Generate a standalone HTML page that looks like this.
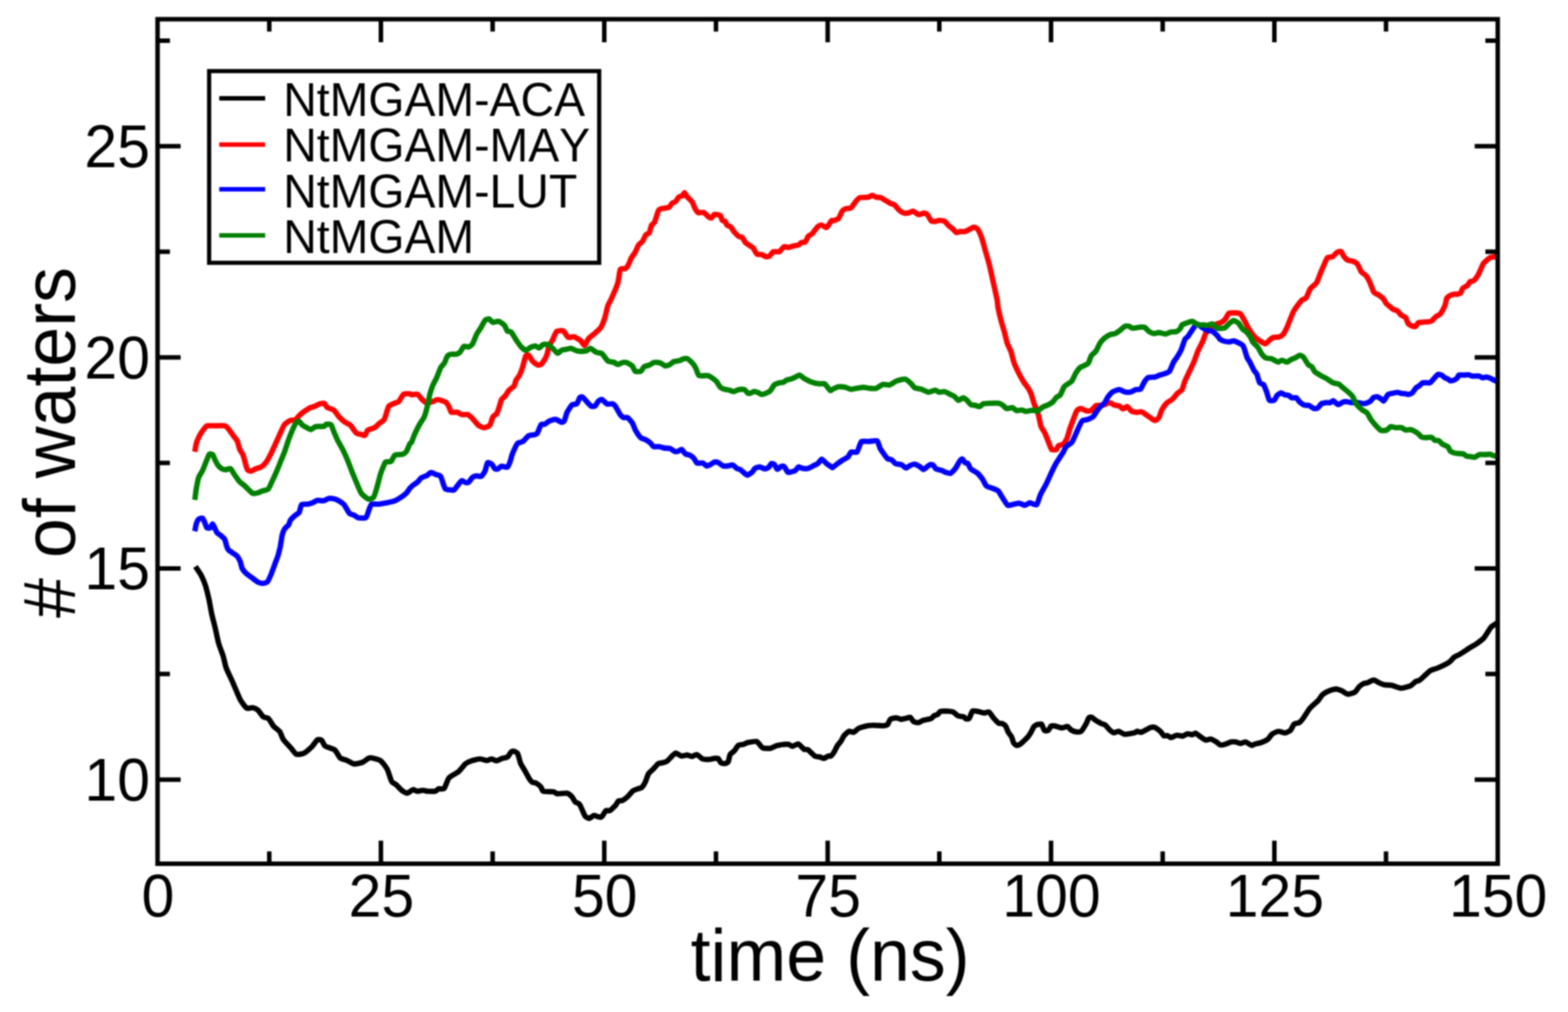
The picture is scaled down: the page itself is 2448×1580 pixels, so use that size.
<!DOCTYPE html>
<html><head><meta charset="utf-8"><title>Number of waters vs time</title>
<style>html,body{margin:0;padding:0;background:#fff}svg{display:block;filter:blur(0.8px)}text{font-family:"Liberation Sans",sans-serif;fill:#000;font-kerning:none}</style></head>
<body>
<svg width="2448" height="1580" viewBox="0 0 2448 1580">
<rect width="2448" height="1580" fill="#fff"/>
<path d="M305.1,884.5C306.0,885.9 312.5,895.2 314.1,898.2C315.7,901.2 319.7,910.7 320.9,914.5C322.1,918.4 325.4,932.0 326.4,936.4C327.3,940.7 329.5,953.8 330.5,958.2C331.4,962.5 334.8,975.4 335.9,980.0C337.0,984.6 340.1,1000.2 341.4,1004.5C342.6,1008.9 347.0,1019.8 348.2,1023.6C349.4,1027.5 351.7,1038.9 353.1,1042.7C354.5,1046.5 360.1,1058.0 361.8,1061.8C363.5,1065.6 368.6,1077.8 370.0,1080.9C371.4,1084.0 374.0,1090.7 375.5,1093.2C377.0,1095.6 383.1,1104.3 385.0,1105.5C386.9,1106.6 392.8,1104.6 394.5,1104.9C396.3,1105.2 401.1,1107.3 402.7,1108.7C404.4,1110.1 409.3,1117.8 410.9,1119.1C412.5,1120.4 417.5,1120.3 419.1,1121.8C420.7,1123.3 425.5,1132.0 427.3,1134.1C429.0,1136.1 435.3,1140.2 436.8,1142.3C438.3,1144.3 440.5,1152.0 442.3,1154.5C444.0,1157.1 452.5,1165.9 454.5,1168.2C456.6,1170.5 460.7,1177.0 462.7,1177.7C464.8,1178.5 472.5,1177.0 475.0,1175.8C477.5,1174.6 485.2,1167.5 487.3,1165.5C489.3,1163.4 494.0,1156.0 495.5,1155.1C497.0,1154.1 501.0,1154.9 502.3,1155.9C503.5,1156.9 505.7,1163.4 507.7,1164.9C509.8,1166.4 520.4,1169.1 522.7,1170.9C525.0,1172.7 529.0,1181.5 530.9,1183.2C532.8,1184.8 539.6,1186.3 541.8,1187.3C544.0,1188.2 550.3,1192.5 552.7,1192.7C555.2,1193.0 563.9,1191.0 566.4,1190.0C568.8,1189.0 574.5,1183.5 577.3,1183.2C580.0,1182.9 590.9,1185.5 593.6,1187.3C596.4,1189.0 602.8,1197.6 604.5,1200.9C606.3,1204.2 610.0,1217.6 611.4,1220.0C612.7,1222.4 616.5,1223.5 618.1,1224.8C619.7,1226.2 625.4,1232.5 627.2,1233.9C628.9,1235.3 634.1,1238.3 635.5,1238.4C636.8,1238.6 639.8,1236.0 640.7,1235.4C641.7,1234.8 644.2,1232.7 645.3,1232.7C646.3,1232.7 649.8,1235.3 651.3,1235.4C652.8,1235.5 658.7,1233.9 660.4,1233.9C662.0,1233.9 665.9,1235.3 667.9,1235.4C669.9,1235.5 678.3,1235.5 680.0,1235.1C681.6,1234.7 683.1,1232.1 684.5,1231.6C685.9,1231.2 691.9,1232.6 693.5,1230.9C695.2,1229.1 698.8,1216.9 701.1,1214.3C703.4,1211.6 713.6,1206.7 716.2,1204.5C718.7,1202.3 724.8,1194.1 726.7,1192.4C728.7,1190.7 733.5,1188.6 735.8,1187.9C738.1,1187.1 747.0,1184.9 749.4,1184.9C751.8,1184.8 758.1,1187.4 759.9,1187.4C761.7,1187.4 766.0,1184.8 767.5,1184.9C769.0,1184.9 773.4,1188.0 775.0,1187.9C776.7,1187.8 782.3,1184.7 784.1,1184.1C785.8,1183.5 791.0,1182.8 792.4,1181.8C793.7,1180.9 796.7,1175.2 797.7,1174.3C798.6,1173.4 801.1,1172.6 802.2,1172.8C803.2,1173.0 807.2,1174.7 808.2,1176.6C809.3,1178.4 811.7,1189.1 812.7,1191.7C813.8,1194.2 817.4,1199.8 818.8,1202.2C820.1,1204.6 825.1,1213.9 826.3,1215.8C827.5,1217.7 829.8,1220.4 830.8,1221.1C831.9,1221.8 835.5,1221.8 836.9,1222.6C838.2,1223.3 843.3,1227.3 844.4,1228.6C845.6,1229.9 846.2,1234.7 848.2,1235.4C850.2,1236.2 861.9,1235.8 864.0,1236.2C866.2,1236.5 868.0,1239.0 870.1,1239.2C872.2,1239.4 882.9,1238.0 885.2,1238.4C887.4,1238.9 891.4,1242.3 892.7,1243.7C894.0,1245.1 896.8,1250.8 898.0,1252.0C899.2,1253.2 903.5,1254.1 904.8,1255.8C906.1,1257.4 909.9,1266.7 910.8,1268.6C911.7,1270.5 912.9,1273.7 913.8,1274.6C914.7,1275.5 918.5,1277.8 919.9,1277.7C921.2,1277.5 926.2,1273.4 927.4,1273.1C928.6,1272.8 930.9,1274.3 931.9,1274.6C933.0,1274.9 937.2,1276.1 938.0,1276.1C938.8,1276.1 939.2,1275.7 940.0,1274.6C940.8,1273.6 944.8,1266.5 946.0,1265.6C947.2,1264.7 950.6,1266.4 952.1,1265.6C953.6,1264.8 959.8,1258.8 961.1,1257.3C962.5,1255.8 964.6,1251.2 965.6,1250.5C966.7,1249.7 970.2,1250.5 971.7,1249.7C973.2,1249.0 979.1,1244.5 980.7,1243.0C982.4,1241.4 986.8,1235.8 988.3,1234.7C989.8,1233.5 994.5,1232.2 995.8,1231.6C997.2,1231.1 1000.7,1230.4 1001.9,1229.4C1003.0,1228.4 1006.1,1223.9 1007.1,1221.8C1008.2,1219.7 1011.1,1210.4 1012.4,1208.2C1013.7,1206.1 1018.5,1202.3 1020.0,1200.7C1021.5,1199.1 1026.1,1193.4 1027.5,1192.4C1028.9,1191.4 1032.9,1191.3 1034.3,1190.9C1035.7,1190.5 1039.8,1189.5 1041.1,1188.6C1042.4,1187.8 1045.8,1183.9 1047.1,1182.6C1048.5,1181.3 1053.0,1176.0 1054.7,1175.8C1056.3,1175.6 1061.9,1180.0 1063.7,1180.3C1065.5,1180.6 1071.1,1178.8 1072.8,1178.8C1074.4,1178.9 1078.8,1181.2 1080.3,1181.1C1081.8,1181.0 1086.2,1177.7 1087.9,1178.1C1089.5,1178.4 1095.0,1184.1 1096.9,1184.9C1098.9,1185.6 1105.7,1185.7 1107.5,1185.6C1109.3,1185.5 1113.7,1184.3 1115.0,1184.1C1116.4,1184.0 1120.0,1183.4 1121.1,1184.1C1122.1,1184.8 1124.5,1190.1 1125.6,1190.9C1126.6,1191.7 1130.5,1192.1 1131.6,1192.0C1132.7,1191.8 1136.1,1190.8 1136.9,1189.4C1137.7,1188.0 1138.9,1179.8 1139.9,1178.1C1140.9,1176.3 1145.4,1173.5 1146.7,1172.0C1148.0,1170.6 1151.4,1164.7 1152.7,1163.7C1154.1,1162.8 1158.8,1162.7 1160.3,1162.2C1161.8,1161.8 1165.7,1159.7 1167.8,1159.2C1169.9,1158.8 1179.1,1156.9 1181.4,1157.7C1183.7,1158.5 1188.3,1166.5 1190.5,1167.5C1192.6,1168.6 1200.4,1168.6 1202.5,1168.3C1204.6,1168.0 1209.5,1165.1 1211.6,1164.5C1213.7,1163.9 1221.7,1162.5 1223.7,1162.2C1225.6,1162.0 1229.8,1161.9 1231.2,1162.2C1232.6,1162.5 1235.7,1165.3 1237.2,1165.2C1238.7,1165.2 1244.5,1161.0 1246.3,1161.5C1248.1,1161.9 1253.8,1168.9 1255.3,1169.8C1256.8,1170.7 1259.7,1169.5 1261.4,1170.5C1263.0,1171.6 1270.1,1179.2 1271.9,1180.3C1273.7,1181.5 1278.7,1181.7 1279.5,1181.8C1280.3,1182.0 1279.3,1181.6 1280.0,1181.8C1280.7,1182.0 1284.7,1184.2 1286.0,1184.1C1287.4,1183.9 1292.4,1180.7 1293.6,1180.3C1294.7,1179.9 1296.4,1181.0 1297.4,1180.3C1298.3,1179.6 1301.7,1175.1 1302.6,1173.5C1303.6,1171.9 1306.1,1166.1 1307.2,1164.5C1308.2,1162.8 1312.1,1158.5 1313.2,1156.9C1314.2,1155.3 1316.5,1150.1 1317.7,1148.6C1318.9,1147.1 1323.8,1142.4 1325.3,1141.8C1326.8,1141.3 1331.3,1143.8 1332.8,1143.3C1334.3,1142.9 1338.1,1138.4 1340.4,1137.3C1342.6,1136.2 1352.7,1133.3 1355.4,1132.8C1358.2,1132.3 1365.2,1132.4 1367.5,1132.5C1369.8,1132.5 1376.3,1133.2 1378.1,1133.1C1379.9,1133.0 1384.4,1132.3 1385.6,1131.3C1386.8,1130.3 1388.8,1124.0 1390.1,1123.0C1391.5,1121.9 1397.5,1120.7 1399.2,1120.7C1400.9,1120.7 1405.2,1122.9 1406.7,1123.0C1408.2,1123.0 1412.8,1121.8 1414.3,1121.5C1415.7,1121.2 1419.9,1119.4 1421.1,1119.9C1422.3,1120.5 1425.1,1125.9 1426.4,1126.7C1427.6,1127.6 1432.4,1128.5 1433.9,1128.2C1435.4,1128.0 1439.5,1125.1 1441.4,1124.5C1443.4,1123.8 1451.9,1122.6 1453.5,1121.9C1455.2,1121.2 1457.0,1118.3 1458.0,1117.7C1459.1,1117.0 1463.1,1116.1 1464.1,1115.4C1465.1,1114.7 1466.6,1111.4 1467.8,1110.9C1469.1,1110.4 1474.1,1110.1 1476.1,1110.1C1478.2,1110.2 1486.3,1110.9 1488.2,1111.7C1490.2,1112.4 1494.1,1116.9 1495.8,1117.7C1497.4,1118.4 1503.6,1118.7 1504.8,1119.2C1506.0,1119.6 1507.0,1122.0 1507.8,1122.2C1508.7,1122.4 1512.1,1122.7 1513.1,1121.5C1514.2,1120.3 1517.0,1111.2 1518.4,1110.1C1519.8,1109.1 1525.6,1110.6 1527.4,1110.9C1529.3,1111.2 1534.8,1113.1 1536.5,1113.2C1538.2,1113.2 1542.5,1110.8 1544.0,1111.7C1545.5,1112.5 1550.1,1119.7 1551.6,1121.5C1553.1,1123.2 1557.8,1128.2 1559.1,1129.0C1560.5,1129.8 1564.0,1129.2 1565.2,1129.8C1566.3,1130.3 1569.5,1132.9 1570.4,1134.3C1571.3,1135.6 1573.3,1141.7 1574.2,1143.3C1575.1,1145.0 1578.7,1149.2 1579.5,1150.9C1580.3,1152.5 1581.8,1158.7 1582.5,1159.9C1583.3,1161.2 1586.1,1163.5 1587.0,1163.7C1588.0,1163.9 1590.6,1163.5 1592.3,1162.2C1594.1,1160.9 1602.6,1152.9 1604.4,1150.9C1606.2,1148.8 1609.4,1143.5 1610.4,1141.8C1611.4,1140.2 1613.3,1135.4 1614.2,1134.3C1615.1,1133.2 1618.9,1131.3 1619.5,1131.0C1620.1,1130.7 1619.3,1131.3 1620.0,1131.3C1620.7,1131.2 1625.0,1129.6 1626.0,1130.5C1627.1,1131.4 1629.5,1139.3 1630.6,1140.3C1631.6,1141.3 1635.5,1141.0 1636.6,1140.3C1637.7,1139.6 1640.1,1134.2 1641.1,1133.5C1642.2,1132.8 1645.5,1133.2 1647.2,1133.5C1648.8,1133.8 1655.8,1136.5 1657.7,1136.5C1659.7,1136.6 1665.3,1134.0 1666.8,1134.3C1668.2,1134.6 1670.7,1138.7 1672.1,1139.6C1673.4,1140.4 1678.8,1142.4 1680.4,1142.6C1681.9,1142.8 1686.4,1143.0 1687.9,1141.8C1689.4,1140.6 1694.2,1132.6 1695.4,1130.5C1696.6,1128.4 1699.1,1121.8 1700.0,1120.7C1700.9,1119.6 1703.4,1119.6 1704.5,1119.9C1705.5,1120.3 1709.0,1123.5 1710.5,1124.5C1712.0,1125.5 1718.1,1129.0 1719.6,1129.8C1721.1,1130.5 1724.3,1131.0 1725.6,1132.0C1726.9,1133.0 1731.0,1138.4 1732.4,1139.6C1733.8,1140.8 1737.8,1143.9 1739.2,1144.1C1740.6,1144.3 1745.1,1141.6 1746.7,1141.8C1748.4,1142.1 1753.4,1146.1 1755.8,1146.4C1758.2,1146.6 1768.9,1144.5 1770.9,1144.1C1772.8,1143.6 1774.4,1141.9 1775.4,1141.8C1776.5,1141.8 1780.1,1143.6 1781.4,1143.3C1782.8,1143.1 1787.5,1140.3 1789.0,1139.6C1790.5,1138.8 1795.1,1136.2 1796.5,1135.8C1798.0,1135.4 1801.8,1135.2 1803.3,1135.8C1804.8,1136.4 1810.3,1140.5 1811.6,1141.8C1813.0,1143.1 1815.8,1147.9 1816.9,1148.6C1818.0,1149.3 1821.8,1148.3 1822.9,1148.6C1824.1,1148.9 1826.8,1151.7 1828.2,1151.6C1829.6,1151.6 1835.5,1148.1 1837.3,1147.9C1839.1,1147.6 1844.7,1149.6 1846.3,1149.4C1848.0,1149.1 1852.4,1145.8 1853.9,1145.6C1855.4,1145.4 1860.1,1147.2 1861.4,1147.1C1862.7,1147.0 1865.3,1144.5 1866.7,1144.8C1868.0,1145.2 1873.4,1149.8 1875.0,1150.9C1876.6,1151.9 1881.0,1155.1 1882.5,1155.4C1884.0,1155.7 1888.4,1153.6 1890.1,1153.9C1891.7,1154.2 1897.6,1157.5 1899.1,1158.4C1900.6,1159.3 1903.7,1162.6 1905.2,1163.0C1906.7,1163.3 1912.6,1161.9 1914.2,1161.4C1915.9,1161.0 1920.3,1158.7 1921.8,1158.4C1923.3,1158.1 1927.8,1158.2 1929.3,1158.4C1930.8,1158.7 1935.3,1160.7 1936.8,1160.7C1938.4,1160.7 1942.7,1158.1 1944.4,1158.4C1946.1,1158.7 1952.7,1163.4 1954.2,1163.7C1955.7,1164.0 1958.9,1161.7 1959.5,1161.4C1960.1,1161.2 1959.0,1161.7 1960.0,1161.5C1961.0,1161.2 1967.8,1159.8 1969.8,1159.0C1971.8,1158.3 1978.0,1155.4 1979.6,1154.1C1981.2,1152.8 1984.5,1147.2 1986.2,1146.0C1987.8,1144.7 1994.0,1142.0 1996.0,1141.9C1997.9,1141.7 2003.9,1144.5 2005.8,1144.3C2007.6,1144.2 2013.3,1141.6 2014.8,1140.2C2016.2,1138.8 2019.1,1131.6 2020.5,1130.4C2021.9,1129.2 2027.2,1129.0 2028.7,1128.0C2030.1,1127.0 2033.6,1122.8 2035.2,1120.6C2036.8,1118.4 2042.7,1108.6 2045.0,1105.9C2047.3,1103.2 2056.1,1095.8 2058.1,1093.6C2060.0,1091.5 2063.0,1086.1 2064.6,1084.7C2066.2,1083.2 2072.3,1079.8 2074.4,1078.9C2076.5,1078.0 2083.7,1075.7 2085.9,1075.7C2088.0,1075.7 2093.9,1078.1 2095.7,1078.9C2097.5,1079.8 2101.9,1083.7 2103.8,1083.8C2105.8,1084.0 2113.5,1081.7 2115.3,1080.6C2117.1,1079.4 2120.5,1073.7 2121.8,1072.4C2123.1,1071.1 2127.0,1068.1 2128.4,1067.5C2129.7,1066.8 2133.3,1066.4 2134.9,1065.9C2136.5,1065.3 2142.9,1061.8 2144.7,1061.8C2146.5,1061.8 2151.2,1065.1 2152.9,1065.9C2154.5,1066.6 2159.1,1068.7 2161.0,1069.1C2163.0,1069.5 2169.9,1069.4 2172.5,1069.9C2175.1,1070.5 2184.3,1074.3 2187.2,1074.4C2190.1,1074.4 2199.6,1071.8 2201.9,1070.8C2204.2,1069.7 2208.6,1065.1 2210.1,1064.2C2211.6,1063.3 2215.2,1062.8 2216.6,1061.8C2218.1,1060.8 2223.2,1055.9 2224.8,1054.4C2226.4,1052.9 2231.0,1048.2 2233.0,1047.1C2234.9,1045.9 2241.5,1044.3 2244.4,1043.0C2247.4,1041.7 2259.8,1035.7 2262.4,1034.0C2265.0,1032.3 2268.9,1027.0 2270.6,1025.8C2272.2,1024.6 2276.3,1023.2 2278.7,1021.7C2281.2,1020.3 2292.5,1012.7 2295.1,1011.1C2297.7,1009.5 2302.8,1006.9 2304.9,1005.4C2307.0,1003.9 2314.0,999.0 2316.3,996.4C2318.6,993.8 2325.8,981.5 2327.8,979.2C2329.7,976.9 2334.9,974.2 2335.9,973.5C2337.0,972.8 2338.1,972.0 2338.3,971.9" fill="none" stroke="#000000" stroke-width="8.4" stroke-linejoin="round" stroke-linecap="butt"/>
<path d="M304.1,705.4C304.4,704.1 305.8,694.9 306.4,692.6C307.0,690.3 309.3,684.7 310.2,682.8C311.1,680.9 314.4,675.3 315.5,673.7C316.5,672.2 319.9,667.9 320.7,666.9C321.6,666.0 322.1,664.9 323.8,664.7C325.4,664.5 334.6,664.7 337.3,664.7C340.1,664.7 349.0,664.2 350.9,664.7C352.9,665.2 355.6,668.4 356.9,670.0C358.3,671.6 363.1,678.6 364.5,680.5C365.9,682.4 369.5,686.7 370.5,688.8C371.5,690.9 373.4,699.5 374.3,701.7C375.2,703.8 378.7,708.4 379.6,710.7C380.5,713.0 382.7,722.0 383.4,724.3C384.0,726.5 385.5,732.2 386.4,733.3C387.2,734.5 390.4,735.8 391.7,735.6C392.9,735.4 397.5,732.5 399.2,731.8C400.9,731.1 406.6,729.9 408.2,728.8C409.9,727.8 414.3,723.4 415.8,721.3C417.3,719.2 421.8,710.7 423.3,707.7C424.8,704.7 429.4,694.4 430.9,691.1C432.4,687.8 437.1,677.4 438.4,674.5C439.8,671.6 443.0,664.2 444.5,662.4C446.0,660.6 451.9,657.1 453.5,656.4C455.2,655.7 459.5,656.5 461.1,655.6C462.6,654.7 466.9,648.8 468.6,647.3C470.3,645.8 476.1,641.6 477.7,640.5C479.2,639.5 482.3,637.4 483.7,636.8C485.0,636.2 489.7,635.1 491.2,634.5C492.7,633.9 497.3,631.2 498.8,630.7C500.3,630.3 505.1,629.5 506.3,630.0C507.5,630.5 509.3,635.0 510.8,636.0C512.4,637.1 519.6,639.1 521.4,640.5C523.2,642.0 527.3,648.5 529.0,650.4C530.6,652.2 536.2,657.3 538.0,658.7C539.8,660.0 545.2,662.2 547.1,663.9C548.9,665.7 554.5,674.6 556.1,676.0C557.8,677.4 562.3,677.9 563.7,678.3C565.0,678.6 568.6,680.5 569.7,679.8C570.7,679.1 572.7,672.7 574.2,671.5C575.7,670.3 583.0,668.8 584.8,667.7C586.6,666.6 590.8,662.2 592.3,660.9C593.8,659.6 598.7,656.8 599.9,654.9C601.1,652.9 603.6,643.4 604.4,641.3C605.1,639.2 606.2,635.0 607.4,633.8C608.6,632.5 615.0,629.9 616.5,629.2C618.0,628.5 621.1,628.3 622.5,627.0C623.9,625.6 628.3,616.9 630.0,615.6C631.8,614.4 638.7,614.8 640.0,614.9C641.3,615.0 641.5,616.3 642.6,616.4C643.8,616.4 650.0,614.8 651.7,615.6C653.3,616.4 657.7,622.5 659.2,623.9C660.7,625.3 665.1,628.9 666.8,629.2C668.4,629.5 674.2,627.4 675.8,626.9C677.5,626.4 681.4,623.8 683.4,623.9C685.3,624.0 693.7,626.6 695.4,627.7C697.2,628.7 699.8,632.9 700.7,634.5C701.6,636.0 703.2,642.6 704.5,643.5C705.8,644.4 711.9,643.1 713.5,643.5C715.2,643.9 719.4,646.9 721.1,647.3C722.7,647.7 728.5,646.7 730.1,647.3C731.8,647.9 736.0,651.7 737.7,653.3C739.3,655.0 744.9,662.4 746.7,663.9C748.5,665.3 754.0,667.7 755.8,667.7C757.6,667.7 763.5,665.5 764.8,663.9C766.2,662.2 768.3,652.9 769.4,651.1C770.4,649.2 774.4,647.3 775.4,645.8C776.4,644.3 778.4,638.2 779.2,636.0C779.9,633.8 782.0,625.7 783.0,623.9C783.9,622.1 787.8,619.4 789.0,617.9C790.2,616.4 793.7,610.3 795.0,608.8C796.4,607.3 801.5,604.3 802.6,602.8C803.6,601.3 804.7,595.5 805.6,593.7C806.5,591.9 810.6,586.8 811.6,584.7C812.7,582.6 815.2,575.5 816.1,572.6C817.0,569.7 819.8,557.8 820.7,556.0C821.6,554.2 824.1,553.7 825.2,554.5C826.3,555.2 829.9,562.0 831.2,563.5C832.6,565.1 837.4,569.1 838.8,569.6C840.1,570.1 843.6,569.7 844.8,568.8C846.0,567.9 849.9,562.3 850.8,560.5C851.8,558.8 854.0,553.4 854.6,551.5C855.2,549.5 856.1,543.0 856.9,540.9C857.7,538.8 861.7,532.7 862.9,530.4C864.1,528.0 867.3,518.9 869.0,517.5C870.6,516.2 877.7,515.9 879.5,516.8C881.3,517.7 885.4,525.7 887.1,526.6C888.7,527.5 894.1,525.3 896.1,525.8C898.1,526.4 905.0,530.5 906.7,531.9C908.3,533.2 911.5,539.7 912.7,539.4C913.9,539.1 917.1,530.8 918.7,528.8C920.4,526.9 927.3,521.6 929.3,519.8C931.3,518.0 936.8,513.2 938.4,510.7C939.9,508.3 943.3,499.0 944.4,495.6C945.4,492.3 947.9,480.4 948.9,477.5C949.9,474.7 952.6,470.5 954.2,467.0C955.8,463.4 963.1,446.6 964.5,442.0C965.9,437.4 967.1,423.1 968.3,420.9C969.5,418.6 975.3,420.1 976.6,419.4C977.9,418.6 980.2,415.0 981.1,413.3C982.0,411.7 984.6,404.7 985.6,402.8C986.7,400.8 990.6,395.8 991.7,393.7C992.8,391.7 995.8,384.1 997.0,382.4C998.1,380.7 1001.9,378.7 1003.0,377.1C1004.1,375.5 1007.2,367.9 1008.3,366.6C1009.3,365.2 1012.7,365.1 1013.6,363.5C1014.5,362.0 1016.5,353.1 1017.3,351.5C1018.2,349.8 1020.8,349.2 1021.9,346.9C1022.9,344.7 1026.8,331.0 1027.9,328.8C1029.0,326.7 1030.8,326.4 1032.4,325.8C1034.1,325.3 1042.8,324.4 1044.5,323.6C1046.2,322.7 1048.0,318.4 1049.0,317.5C1050.1,316.6 1054.0,315.5 1055.1,314.5C1056.1,313.5 1058.5,308.6 1059.6,307.7C1060.6,306.8 1064.7,306.1 1065.6,305.5C1066.5,304.8 1067.9,300.7 1068.6,300.9C1069.4,301.2 1072.0,306.3 1073.2,307.7C1074.4,309.2 1079.6,313.6 1080.7,315.3C1081.8,316.9 1083.6,322.7 1084.5,324.3C1085.4,326.0 1088.3,331.1 1089.8,331.9C1091.2,332.6 1097.2,331.2 1098.8,331.9C1100.5,332.5 1105.1,337.8 1106.4,338.7C1107.6,339.5 1110.0,340.5 1110.9,340.2C1111.8,339.8 1114.0,335.3 1115.4,334.9C1116.8,334.5 1123.3,335.5 1124.5,336.4C1125.7,337.3 1126.7,343.0 1127.5,343.9C1128.2,344.8 1131.2,344.7 1132.0,345.4C1132.8,346.2 1134.1,350.6 1135.0,351.5C1135.9,352.4 1140.0,353.5 1141.1,354.5C1142.1,355.5 1144.4,359.8 1145.6,361.3C1146.8,362.7 1151.8,367.8 1153.1,368.8C1154.5,369.8 1158.1,370.1 1159.2,371.1C1160.2,372.1 1162.5,377.4 1163.7,378.6C1164.9,379.9 1170.0,383.1 1171.2,383.9C1172.4,384.7 1174.7,385.6 1175.8,386.9C1176.8,388.2 1180.4,395.7 1181.8,396.7C1183.2,397.8 1188.0,397.1 1189.3,397.5C1190.7,397.9 1194.2,400.3 1195.4,400.5C1196.6,400.7 1200.2,400.5 1201.4,399.8C1202.6,399.0 1205.9,393.6 1207.4,393.0C1209.0,392.3 1214.8,393.7 1216.5,393.0C1218.2,392.2 1222.5,386.1 1224.0,385.4C1225.5,384.7 1230.1,386.3 1231.6,386.2C1233.1,386.0 1237.6,384.3 1239.1,383.9C1240.6,383.5 1245.5,382.9 1246.7,382.4C1247.9,381.9 1250.1,379.1 1251.2,378.6C1252.3,378.2 1256.2,378.9 1257.2,377.9C1258.3,376.9 1260.7,370.1 1261.8,368.8C1262.8,367.5 1266.3,366.6 1267.8,365.1C1269.3,363.5 1275.3,355.1 1276.8,353.7C1278.4,352.4 1281.5,351.3 1282.9,351.5C1284.2,351.6 1288.9,355.9 1290.4,355.2C1291.9,354.6 1297.0,345.7 1298.0,344.7C1298.9,343.6 1298.9,345.2 1300.0,344.9C1301.1,344.5 1307.6,342.5 1309.1,341.1C1310.5,339.7 1313.3,332.1 1314.3,330.5C1315.4,329.0 1318.2,326.6 1319.6,326.0C1321.0,325.4 1327.2,325.5 1328.7,324.5C1330.2,323.5 1333.3,317.8 1334.7,316.2C1336.1,314.6 1340.1,309.5 1342.2,308.7C1344.4,307.8 1353.9,308.3 1355.8,307.9C1357.8,307.5 1360.7,304.9 1361.9,304.9C1363.1,304.9 1366.5,307.5 1367.9,307.9C1369.3,308.3 1374.1,308.2 1375.4,308.7C1376.8,309.1 1380.0,311.5 1381.5,312.4C1383.0,313.3 1389.0,317.0 1390.5,317.7C1392.0,318.5 1395.2,318.9 1396.6,320.0C1397.9,321.0 1402.6,327.0 1404.1,328.3C1405.6,329.6 1410.1,332.4 1411.7,332.8C1413.2,333.2 1417.8,332.4 1419.2,332.1C1420.6,331.8 1424.5,329.5 1426.0,329.8C1427.5,330.1 1432.6,334.8 1434.3,335.1C1435.9,335.4 1441.2,332.8 1442.6,332.8C1443.9,332.8 1446.7,333.9 1447.9,335.1C1449.0,336.3 1452.7,343.8 1453.9,344.9C1455.1,345.9 1458.7,345.7 1459.9,345.6C1461.1,345.6 1464.5,344.1 1466.0,344.1C1467.5,344.1 1473.5,344.8 1475.0,345.6C1476.5,346.5 1479.8,351.3 1481.1,352.4C1482.3,353.6 1485.9,355.9 1487.1,356.9C1488.3,358.0 1491.9,362.5 1493.1,363.0C1494.3,363.4 1497.8,361.6 1499.2,361.5C1500.5,361.3 1505.2,361.9 1506.7,361.5C1508.2,361.1 1512.9,358.4 1514.2,357.7C1515.6,357.0 1519.1,354.7 1520.3,354.7C1521.5,354.7 1525.1,356.1 1526.3,357.7C1527.5,359.3 1531.1,367.1 1532.4,370.5C1533.6,373.9 1537.2,387.4 1538.4,391.7C1539.6,395.9 1543.2,407.9 1544.4,412.8C1545.6,417.6 1549.3,434.5 1550.5,439.9C1551.7,445.4 1555.7,463.1 1556.5,467.1C1557.3,471.1 1557.4,476.4 1558.1,480.0C1558.8,483.6 1562.4,498.9 1563.4,502.6C1564.4,506.4 1567.0,514.4 1567.9,517.7C1568.8,521.0 1571.4,532.7 1572.4,535.8C1573.5,539.0 1577.4,546.4 1578.5,549.4C1579.5,552.4 1581.8,562.7 1583.0,566.0C1584.2,569.3 1589.0,579.6 1590.5,582.6C1592.0,585.6 1596.6,593.8 1598.1,596.2C1599.6,598.6 1604.4,604.8 1605.6,606.7C1606.8,608.7 1609.2,613.4 1610.1,615.8C1611.0,618.2 1613.6,627.9 1614.7,630.9C1615.7,633.9 1619.6,642.5 1620.7,646.0C1621.8,649.4 1624.2,662.6 1625.2,665.6C1626.3,668.6 1630.1,673.6 1631.3,676.1C1632.5,678.7 1636.2,688.7 1637.3,691.2C1638.4,693.8 1640.6,700.7 1641.8,701.8C1643.0,702.8 1648.3,702.4 1649.4,701.8C1650.4,701.2 1651.3,696.6 1652.4,695.8C1653.4,694.9 1658.6,694.7 1659.9,693.5C1661.3,692.3 1664.9,686.2 1666.0,683.7C1667.0,681.2 1669.6,671.3 1670.5,668.6C1671.4,665.9 1674.0,659.2 1675.0,656.5C1676.1,653.8 1679.8,643.3 1681.1,641.4C1682.3,639.6 1685.6,637.7 1687.1,637.7C1688.6,637.7 1694.5,641.1 1696.1,641.4C1697.8,641.7 1702.2,641.5 1703.7,640.7C1705.2,639.9 1709.7,633.9 1711.2,633.1C1712.7,632.4 1717.4,633.3 1718.8,633.1C1720.1,633.0 1723.5,632.1 1724.8,631.6C1726.2,631.2 1730.8,628.5 1732.4,628.6C1733.9,628.7 1738.4,631.9 1739.9,632.4C1741.4,632.9 1746.1,633.3 1747.4,633.9C1748.8,634.5 1752.3,638.3 1753.5,638.4C1754.7,638.5 1758.2,634.3 1759.5,634.7C1760.9,635.0 1765.5,641.3 1767.1,642.2C1768.6,643.1 1773.1,643.6 1774.6,643.7C1776.1,643.8 1780.8,642.6 1782.1,643.0C1783.5,643.3 1786.8,645.8 1788.2,646.7C1789.5,647.6 1794.2,651.0 1795.7,652.0C1797.2,653.0 1801.9,656.5 1803.3,656.5C1804.6,656.5 1808.2,653.7 1809.3,652.0C1810.4,650.3 1812.6,642.2 1813.8,639.9C1815.0,637.7 1819.7,631.0 1821.4,629.4C1823.0,627.7 1828.8,624.8 1830.4,623.3C1832.1,621.8 1836.5,615.8 1838.0,614.3C1839.5,612.8 1844.3,610.2 1845.5,608.2C1846.7,606.3 1848.6,598.1 1850.0,594.7C1851.5,591.2 1858.6,576.5 1860.0,573.5C1861.4,570.5 1863.1,567.2 1864.1,564.6C1865.2,562.1 1868.8,551.2 1870.2,548.0C1871.5,544.9 1876.5,535.7 1877.7,533.0C1878.9,530.2 1881.3,522.8 1882.2,520.9C1883.2,518.9 1885.4,514.7 1886.8,513.3C1888.1,512.0 1894.3,508.1 1895.8,507.3C1897.3,506.5 1900.7,505.5 1901.9,505.0C1903.1,504.6 1906.7,503.6 1907.9,502.8C1909.1,501.9 1912.9,498.1 1913.9,496.7C1915.0,495.4 1917.1,490.0 1918.5,489.2C1919.8,488.4 1925.7,488.4 1927.5,488.4C1929.3,488.5 1934.9,488.5 1936.6,489.9C1938.2,491.4 1942.9,500.6 1944.1,502.8C1945.3,505.0 1947.6,510.0 1948.6,511.8C1949.7,513.6 1953.5,519.3 1954.7,520.9C1955.9,522.5 1959.3,526.5 1960.7,527.7C1962.1,528.9 1966.7,532.0 1968.2,533.0C1969.8,533.9 1974.3,537.0 1975.8,536.7C1977.3,536.4 1982.1,530.9 1983.3,529.9C1984.5,529.0 1986.5,527.3 1987.9,526.9C1989.2,526.5 1995.4,526.6 1996.9,526.2C1998.4,525.7 2001.7,523.8 2003.0,522.4C2004.2,521.0 2007.8,514.4 2009.0,511.8C2010.2,509.3 2014.0,499.3 2015.0,496.7C2016.1,494.2 2018.5,488.1 2019.5,486.2C2020.6,484.2 2024.2,478.9 2025.6,477.1C2026.9,475.3 2031.8,469.3 2033.1,468.1C2034.5,466.9 2038.0,466.7 2039.2,465.1C2040.4,463.4 2044.1,453.3 2045.2,451.5C2046.3,449.7 2048.7,448.0 2049.7,446.9C2050.8,445.9 2054.6,443.0 2055.8,440.9C2057.0,438.8 2060.7,428.4 2061.8,425.8C2062.8,423.3 2065.3,417.6 2066.3,415.3C2067.4,412.9 2071.0,403.9 2072.4,402.4C2073.7,401.0 2078.4,401.8 2079.9,400.9C2081.4,400.1 2086.1,395.0 2087.4,394.1C2088.8,393.3 2092.4,392.0 2093.5,392.6C2094.5,393.2 2096.9,398.8 2098.0,400.2C2099.1,401.5 2102.7,405.5 2104.0,406.2C2105.4,407.0 2110.1,407.1 2111.6,407.7C2113.1,408.3 2117.8,410.6 2119.1,412.2C2120.5,413.9 2123.8,422.5 2125.2,424.3C2126.5,426.1 2131.3,428.7 2132.7,430.4C2134.1,432.0 2137.5,438.3 2138.7,440.9C2139.9,443.5 2143.4,454.0 2144.8,456.0C2146.1,458.0 2150.8,459.5 2152.3,460.5C2153.8,461.6 2158.7,465.2 2159.9,466.6C2161.0,467.9 2163.1,472.6 2164.2,473.9C2165.2,475.1 2169.2,478.2 2170.4,479.1C2171.5,480.0 2174.4,482.6 2175.6,483.2C2176.7,483.9 2180.7,484.5 2181.8,485.3C2183.0,486.2 2185.8,490.5 2187.0,491.6C2188.3,492.6 2193.1,494.4 2194.3,495.7C2195.4,497.1 2197.5,503.8 2198.4,505.1C2199.4,506.4 2202.5,508.2 2203.6,508.7C2204.8,509.2 2208.8,510.2 2209.9,509.7C2210.9,509.3 2212.9,504.7 2214.0,504.0C2215.2,503.4 2219.8,503.1 2221.3,503.0C2222.8,502.8 2227.2,502.6 2228.6,502.5C2229.9,502.3 2233.5,502.3 2234.8,501.4C2236.2,500.6 2240.7,495.2 2242.1,494.2C2243.4,493.1 2247.2,491.7 2248.3,490.5C2249.5,489.3 2252.7,483.8 2253.5,482.2C2254.3,480.6 2256.1,476.6 2256.6,474.9C2257.1,473.3 2258.0,466.9 2258.7,465.6C2259.4,464.2 2262.8,462.1 2263.9,461.4C2265.0,460.8 2269.0,459.6 2270.1,459.4C2271.3,459.1 2274.3,459.6 2275.3,459.4C2276.4,459.1 2279.7,458.2 2280.5,457.3C2281.4,456.3 2282.6,451.1 2283.6,450.0C2284.7,448.9 2289.8,446.9 2290.9,445.8C2292.1,444.8 2294.1,440.3 2295.1,439.6C2296.0,438.9 2299.1,439.4 2300.3,438.6C2301.4,437.7 2305.5,432.9 2306.5,431.3C2307.5,429.7 2309.7,425.0 2310.6,423.0C2311.6,421.0 2314.8,413.2 2315.8,411.6C2316.9,409.9 2320.0,407.3 2321.0,406.4C2322.1,405.4 2325.1,402.7 2326.2,402.2C2327.4,401.7 2331.4,401.4 2332.5,401.2C2333.5,401.0 2336.0,400.3 2336.6,400.1C2337.2,400.0 2338.1,399.8 2338.3,399.7" fill="none" stroke="#ff0000" stroke-width="8.4" stroke-linejoin="round" stroke-linecap="butt"/>
<path d="M304.1,829.4C304.4,828.3 305.8,820.0 306.4,818.1C307.0,816.2 309.2,811.4 310.2,810.5C311.2,809.6 315.2,808.4 316.2,809.0C317.2,809.6 319.3,815.1 320.0,816.6C320.7,818.1 322.2,823.4 323.0,824.1C323.8,824.9 327.4,824.7 328.3,824.1C329.2,823.5 331.3,817.9 332.1,818.1C332.8,818.2 335.1,824.3 335.8,825.6C336.5,827.0 337.9,830.6 338.8,831.7C339.7,832.7 343.7,835.1 344.9,836.2C346.1,837.2 350.0,840.6 350.9,842.2C351.8,843.9 353.3,851.1 353.9,852.8C354.5,854.4 355.9,857.7 356.9,858.8C358.0,859.9 363.1,863.1 364.5,864.1C365.9,865.1 369.5,867.3 370.5,868.6C371.6,869.9 374.3,875.0 375.1,876.9C375.8,878.8 377.2,885.7 378.1,887.5C379.0,889.3 382.6,893.6 384.1,895.0C385.6,896.5 391.3,900.5 393.2,901.8C395.0,903.2 400.6,907.7 402.2,908.6C403.9,909.5 408.2,910.9 409.8,910.9C411.3,910.9 415.9,910.0 417.3,908.6C418.7,907.2 422.1,899.4 423.3,896.5C424.5,893.7 428.3,882.8 429.4,879.9C430.4,877.1 433.1,870.6 433.9,867.9C434.7,865.1 437.0,856.1 437.7,852.8C438.3,849.5 440.0,837.4 440.7,834.7C441.4,832.0 443.5,827.1 444.5,825.6C445.4,824.1 449.6,820.9 450.5,819.6C451.4,818.2 452.5,813.5 453.5,812.0C454.6,810.5 459.7,805.7 461.1,804.5C462.4,803.3 466.1,801.6 467.1,800.0C468.1,798.3 469.5,789.2 470.9,787.9C472.2,786.6 478.9,787.4 480.7,787.1C482.4,786.8 486.7,785.5 488.2,784.9C489.7,784.3 494.1,781.4 495.8,781.1C497.4,780.8 503.0,782.2 504.8,781.9C506.6,781.6 511.9,778.3 513.9,778.1C515.8,777.9 522.2,778.7 524.4,779.6C526.7,780.5 534.4,785.0 536.5,787.1C538.6,789.3 543.9,799.7 545.5,801.5C547.2,803.2 551.7,803.8 553.1,804.5C554.5,805.2 557.3,807.9 559.1,808.3C560.9,808.6 569.5,809.4 571.2,808.3C572.9,807.1 574.8,799.1 575.7,796.9C576.6,794.8 578.7,788.1 580.3,787.1C581.8,786.2 588.4,787.4 590.8,787.1C593.2,786.9 601.8,785.4 604.4,784.9C607.0,784.4 614.2,782.8 616.5,781.9C618.7,781.0 625.2,777.0 627.0,775.8C628.8,774.6 633.3,771.1 634.6,769.8C635.9,768.4 639.0,763.4 640.0,762.2C641.0,761.1 643.0,759.0 644.1,758.0C645.3,757.1 650.3,754.0 651.7,752.8C653.0,751.6 656.2,747.0 657.7,746.0C659.2,744.9 665.3,743.0 666.8,742.2C668.3,741.4 671.5,737.8 672.8,737.7C674.2,737.5 678.8,740.1 680.4,740.7C681.9,741.3 686.7,742.1 687.9,743.7C689.1,745.3 691.7,754.6 692.4,756.5C693.2,758.5 694.4,762.5 695.4,763.3C696.5,764.1 701.6,764.7 703.0,764.8C704.3,765.0 707.7,765.8 709.0,764.8C710.4,763.8 715.4,756.5 716.6,755.0C717.8,753.6 720.0,750.6 721.1,750.5C722.1,750.3 726.1,753.3 727.1,753.5C728.2,753.7 730.6,753.6 731.7,752.8C732.7,751.9 736.5,746.2 737.7,745.2C738.9,744.2 742.4,743.1 743.7,743.0C745.1,742.8 749.9,744.5 751.3,743.7C752.6,743.0 756.3,737.5 757.3,735.4C758.3,733.3 760.0,723.6 761.1,722.6C762.1,721.5 766.7,723.9 767.9,724.8C769.0,725.8 771.5,730.9 772.4,731.6C773.3,732.4 775.9,732.8 776.9,732.4C778.0,732.0 781.4,728.2 783.0,727.9C784.5,727.6 790.6,730.1 792.0,729.4C793.4,728.6 795.8,722.3 796.5,720.3C797.3,718.4 798.6,712.2 799.5,709.8C800.5,707.3 804.7,698.0 805.6,696.2C806.5,694.4 807.5,692.3 808.6,691.7C809.7,691.0 814.5,690.5 816.1,689.4C817.8,688.3 823.4,681.4 825.2,680.3C827.0,679.3 832.9,679.2 834.2,678.8C835.6,678.4 837.7,678.1 838.8,676.6C839.8,675.0 843.6,664.4 844.8,663.0C846.0,661.6 849.6,662.8 850.8,662.2C852.1,661.7 855.2,658.5 856.9,657.7C858.5,656.9 865.5,654.5 867.4,654.7C869.4,654.8 875.1,659.0 876.5,659.2C877.9,659.4 880.1,658.5 881.0,656.9C881.9,655.4 884.3,645.9 885.5,643.4C886.8,640.9 891.6,633.3 893.1,632.1C894.6,630.8 899.4,631.7 900.6,630.5C901.8,629.4 904.3,621.8 905.2,620.7C906.1,619.7 908.6,619.4 909.7,620.0C910.7,620.6 914.4,625.3 915.7,626.8C917.1,628.2 921.9,633.6 923.3,634.3C924.6,635.0 928.2,634.3 929.3,633.6C930.4,632.8 932.8,627.8 933.8,626.8C934.9,625.8 938.5,623.4 939.9,623.8C941.2,624.1 945.8,629.9 947.4,630.5C949.1,631.2 955.2,630.3 956.5,630.5C957.7,630.8 959.2,632.1 960.0,633.2C960.8,634.2 963.6,639.2 964.5,640.7C965.4,642.2 968.1,647.1 969.1,648.2C970.0,649.4 972.5,651.6 973.6,652.0C974.6,652.4 978.3,651.2 979.6,652.0C981.0,652.8 986.0,658.4 987.2,660.3C988.4,662.2 990.8,669.1 991.7,670.9C992.6,672.7 995.3,677.1 996.2,678.4C997.1,679.7 999.5,682.9 1000.7,683.7C1001.9,684.5 1006.8,685.9 1008.3,686.7C1009.8,687.6 1014.6,690.9 1015.8,692.0C1017.0,693.1 1019.0,696.8 1020.4,697.3C1021.7,697.8 1027.7,697.1 1029.4,697.3C1031.1,697.5 1035.3,699.2 1036.9,699.5C1038.6,699.8 1044.3,699.8 1046.0,700.3C1047.7,700.8 1052.3,704.4 1053.5,704.8C1054.8,705.3 1057.0,705.1 1058.1,704.8C1059.1,704.5 1062.9,701.4 1064.1,701.8C1065.3,702.2 1068.8,707.7 1070.1,708.6C1071.5,709.5 1076.3,710.1 1077.7,710.9C1079.0,711.6 1082.7,714.9 1083.7,716.1C1084.8,717.4 1086.9,722.3 1088.2,722.9C1089.6,723.6 1095.8,722.5 1097.3,722.9C1098.8,723.4 1102.1,727.2 1103.3,727.5C1104.5,727.7 1108.2,725.8 1109.4,725.2C1110.6,724.6 1114.2,721.7 1115.4,721.4C1116.6,721.1 1120.1,721.6 1121.4,722.2C1122.8,722.8 1127.5,726.9 1129.0,727.5C1130.5,728.0 1135.0,727.6 1136.5,727.5C1138.0,727.3 1142.7,725.6 1144.1,726.0C1145.4,726.3 1148.9,730.5 1150.1,731.2C1151.3,732.0 1154.9,732.7 1156.1,733.5C1157.4,734.2 1161.1,737.9 1162.2,738.8C1163.2,739.6 1165.5,741.9 1166.7,741.8C1167.9,741.6 1173.0,738.3 1174.2,737.3C1175.5,736.2 1177.6,732.1 1178.8,731.2C1180.0,730.4 1184.8,728.9 1186.3,729.0C1187.8,729.0 1192.5,731.9 1193.9,732.0C1195.2,732.1 1198.8,730.6 1199.9,729.7C1201.0,728.9 1203.5,724.1 1204.4,723.7C1205.3,723.2 1208.0,724.3 1209.0,725.2C1209.9,726.1 1212.4,732.4 1213.5,732.7C1214.5,733.0 1218.5,728.7 1219.5,728.2C1220.6,727.8 1223.0,727.3 1224.0,728.2C1225.1,729.1 1228.9,736.4 1230.1,737.3C1231.3,738.1 1234.9,736.8 1236.1,736.5C1237.3,736.2 1241.1,735.0 1242.1,734.2C1243.2,733.5 1245.6,729.3 1246.7,729.0C1247.7,728.7 1251.2,731.0 1252.7,731.2C1254.2,731.5 1259.9,731.7 1261.8,731.2C1263.6,730.8 1269.3,727.5 1270.8,726.7C1272.3,726.0 1275.6,724.7 1276.8,723.7C1278.1,722.7 1281.5,716.9 1282.9,716.9C1284.2,716.9 1288.9,722.5 1290.4,723.7C1291.9,724.9 1297.0,728.3 1298.0,729.0C1298.9,729.6 1299.0,730.4 1300.0,729.9C1301.0,729.4 1306.0,725.0 1307.5,723.9C1309.1,722.8 1313.4,719.7 1315.1,718.6C1316.7,717.6 1322.8,714.6 1324.1,713.3C1325.5,712.1 1327.3,706.5 1328.7,705.8C1330.0,705.0 1336.4,706.8 1337.7,705.8C1339.1,704.7 1341.5,696.9 1342.2,695.2C1343.0,693.6 1343.8,689.8 1345.3,689.2C1346.8,688.6 1354.9,689.3 1357.3,689.2C1359.7,689.1 1367.7,687.4 1369.4,688.4C1371.1,689.5 1372.9,697.7 1373.9,699.8C1375.0,701.8 1378.8,707.2 1380.0,708.8C1381.2,710.5 1384.8,715.4 1386.0,716.4C1387.2,717.3 1390.8,717.1 1392.0,717.9C1393.2,718.6 1396.6,723.1 1398.1,723.9C1399.6,724.7 1405.5,724.7 1407.1,725.4C1408.8,726.1 1413.3,730.5 1414.7,730.7C1416.0,730.8 1419.3,727.5 1420.7,726.9C1422.1,726.3 1426.7,724.5 1428.2,724.7C1429.8,724.8 1434.4,727.6 1435.8,728.4C1437.2,729.3 1440.6,733.0 1441.8,733.0C1443.0,733.0 1446.8,729.2 1447.9,728.4C1448.9,727.7 1451.5,725.6 1452.4,725.4C1453.3,725.2 1456.0,725.5 1456.9,726.2C1457.8,726.8 1460.1,731.4 1461.4,732.2C1462.8,733.0 1469.0,733.9 1470.5,734.5C1472.0,735.0 1475.2,737.0 1476.5,737.5C1477.9,737.9 1482.6,739.6 1484.1,739.0C1485.6,738.4 1490.3,733.3 1491.6,731.4C1493.0,729.6 1496.6,722.4 1497.7,720.9C1498.7,719.4 1501.3,716.2 1502.2,716.4C1503.1,716.5 1505.8,721.6 1506.7,722.4C1507.6,723.1 1510.3,722.9 1511.2,723.9C1512.1,724.9 1514.2,730.7 1515.8,732.2C1517.3,733.7 1524.5,737.4 1526.3,739.0C1528.1,740.6 1532.5,746.1 1533.9,748.0C1535.2,750.0 1538.5,757.2 1539.9,758.6C1541.3,760.0 1545.6,760.9 1547.4,761.6C1549.3,762.4 1556.3,764.8 1558.0,766.1C1559.7,767.5 1562.5,772.9 1564.0,775.2C1565.5,777.5 1571.3,787.6 1573.1,788.8C1574.9,790.0 1580.3,787.6 1582.1,787.3C1584.0,787.0 1589.4,785.6 1591.2,785.8C1593.0,785.9 1598.6,788.9 1600.3,788.8C1601.9,788.7 1606.0,785.1 1607.8,785.0C1609.6,784.9 1616.7,789.3 1618.4,788.0C1620.0,786.7 1622.9,775.4 1624.4,772.2C1625.9,768.9 1631.8,758.9 1633.4,755.6C1635.1,752.3 1639.5,742.2 1641.0,739.0C1642.5,735.8 1646.6,727.2 1648.5,723.9C1650.4,720.6 1658.4,708.5 1660.0,705.8C1661.6,703.1 1663.1,698.8 1664.5,697.3C1665.8,695.7 1672.0,692.4 1673.5,690.5C1675.0,688.5 1678.3,680.3 1679.5,677.7C1680.8,675.0 1684.5,666.2 1685.6,664.1C1686.6,662.0 1688.9,657.4 1690.1,656.5C1691.3,655.6 1696.0,655.6 1697.7,655.0C1699.3,654.4 1705.2,651.9 1706.7,650.5C1708.2,649.1 1711.5,643.1 1712.7,641.4C1713.9,639.8 1717.6,635.2 1718.8,633.9C1720.0,632.6 1723.8,630.0 1724.8,628.6C1725.9,627.3 1728.1,622.0 1729.3,620.3C1730.5,618.7 1735.1,613.2 1736.9,612.0C1738.7,610.8 1745.5,608.2 1747.4,608.2C1749.4,608.2 1754.7,611.6 1756.5,612.0C1758.3,612.4 1763.9,612.4 1765.5,612.0C1767.2,611.6 1771.6,608.7 1773.1,608.2C1774.6,607.8 1779.3,608.7 1780.6,607.5C1782.0,606.3 1785.5,598.0 1786.7,596.2C1787.9,594.4 1791.0,590.1 1792.7,589.4C1794.4,588.6 1801.5,589.0 1803.3,588.6C1805.1,588.3 1809.3,586.1 1810.8,585.6C1812.3,585.1 1816.8,584.0 1818.4,583.4C1819.9,582.7 1824.5,581.3 1825.9,579.6C1827.3,577.8 1830.7,568.3 1831.9,566.0C1833.1,563.7 1836.8,558.9 1838.0,556.9C1839.2,555.0 1842.8,549.1 1844.0,546.4C1845.2,543.7 1849.0,531.9 1850.0,529.8C1851.1,527.7 1853.3,526.9 1854.6,525.3C1855.8,523.6 1861.2,515.3 1862.6,513.3C1864.0,511.4 1867.2,505.9 1868.7,505.8C1870.2,505.6 1875.9,510.8 1877.7,511.8C1879.5,512.9 1885.3,515.8 1886.8,516.4C1888.3,516.9 1891.5,516.4 1892.8,517.1C1894.2,517.9 1899.1,522.6 1900.4,523.9C1901.6,525.2 1903.7,529.0 1904.9,529.9C1906.1,530.8 1910.9,532.6 1912.4,533.0C1913.9,533.3 1918.6,533.8 1920.0,533.7C1921.3,533.6 1924.6,532.0 1926.0,532.2C1927.4,532.3 1932.0,534.4 1933.5,535.2C1935.1,536.0 1939.7,538.2 1941.1,540.5C1942.4,542.8 1946.1,555.9 1947.1,558.5C1948.2,561.0 1950.6,564.0 1951.7,566.0C1952.7,568.0 1956.6,576.3 1957.7,578.1C1958.7,579.9 1961.3,582.1 1962.2,584.1C1963.1,586.1 1965.7,596.0 1966.7,597.7C1967.8,599.3 1971.7,599.3 1972.8,600.7C1973.8,602.1 1976.4,608.9 1977.3,611.3C1978.2,613.7 1980.6,623.5 1981.8,624.8C1983.0,626.2 1988.2,625.6 1989.4,624.8C1990.6,624.1 1992.8,618.4 1993.9,617.3C1995.0,616.2 1998.7,613.6 1999.9,613.5C2001.1,613.5 2004.8,616.2 2006.0,616.5C2007.2,616.9 2010.9,616.8 2012.0,617.3C2013.1,617.8 2015.3,620.7 2016.5,621.1C2017.7,621.5 2022.9,620.5 2024.1,621.1C2025.3,621.7 2027.4,626.0 2028.6,627.1C2029.8,628.2 2034.6,631.8 2036.1,632.4C2037.7,633.0 2042.2,632.6 2043.7,633.1C2045.2,633.7 2049.9,637.3 2051.2,637.7C2052.6,638.0 2056.1,637.7 2057.3,636.9C2058.5,636.2 2061.9,631.0 2063.3,630.1C2064.7,629.3 2069.5,628.8 2070.8,628.6C2072.2,628.5 2075.8,628.9 2076.9,628.6C2077.9,628.3 2080.2,625.3 2081.4,625.6C2082.6,625.9 2087.4,631.4 2089.0,631.6C2090.5,631.9 2095.1,628.3 2096.5,627.9C2097.9,627.4 2101.2,627.0 2102.5,627.1C2103.9,627.2 2108.3,628.5 2110.1,628.6C2111.9,628.8 2118.7,628.5 2120.6,628.6C2122.6,628.8 2127.9,630.3 2129.7,630.1C2131.5,630.0 2137.2,628.1 2138.7,627.1C2140.3,626.1 2143.6,621.1 2144.8,620.3C2146.0,619.6 2149.6,619.3 2150.8,619.6C2152.0,619.9 2155.9,622.7 2156.8,623.3C2157.8,624.0 2159.4,626.2 2160.0,626.1C2160.6,626.0 2162.4,623.0 2163.1,621.9C2163.8,620.9 2166.2,616.5 2167.3,615.7C2168.3,614.9 2172.1,614.5 2173.5,614.2C2175.0,613.8 2180.4,612.6 2181.8,612.6C2183.3,612.6 2186.8,613.9 2188.1,614.2C2189.3,614.4 2193.2,614.5 2194.3,614.7C2195.3,614.8 2197.4,615.8 2198.4,615.7C2199.5,615.6 2203.4,614.7 2204.7,613.6C2205.9,612.6 2209.8,606.5 2210.9,605.3C2212.1,604.2 2215.2,602.9 2216.1,602.2C2217.0,601.5 2219.2,598.5 2220.3,598.1C2221.3,597.6 2225.2,597.6 2226.5,597.5C2227.7,597.5 2231.5,598.2 2232.7,597.5C2234.0,596.9 2237.7,592.1 2239.0,590.8C2240.2,589.5 2243.9,585.0 2245.2,584.5C2246.4,584.1 2250.4,585.6 2251.4,586.1C2252.5,586.6 2254.6,589.2 2255.6,589.7C2256.5,590.3 2259.9,591.4 2260.8,591.8C2261.6,592.3 2263.0,594.3 2263.9,594.4C2264.8,594.6 2269.0,593.8 2270.1,593.4C2271.3,592.9 2274.6,590.5 2275.3,589.7C2276.1,589.0 2276.5,586.0 2277.4,585.6C2278.3,585.2 2283.1,585.6 2284.7,585.6C2286.2,585.5 2291.6,584.9 2293.0,585.1C2294.3,585.2 2296.6,586.9 2298.2,587.1C2299.7,587.4 2306.9,586.9 2308.6,587.1C2310.2,587.4 2313.6,589.6 2314.8,589.7C2316.1,589.9 2319.7,588.5 2321.0,588.7C2322.4,588.9 2326.8,590.6 2328.3,591.3C2329.9,592.0 2335.6,595.0 2336.6,595.5C2337.6,596.0 2338.1,596.2 2338.3,596.3" fill="none" stroke="#0000ff" stroke-width="8.4" stroke-linejoin="round" stroke-linecap="butt"/>
<path d="M304.1,780.4C304.4,778.7 305.8,767.0 306.4,763.5C307.0,760.0 309.2,748.3 310.2,745.4C311.2,742.5 315.0,737.4 316.2,734.8C317.4,732.3 321.2,722.3 322.2,719.8C323.3,717.2 325.8,710.2 326.8,709.2C327.8,708.2 331.1,709.0 332.1,709.9C333.0,710.9 335.0,716.6 335.8,718.2C336.7,719.9 339.3,725.2 340.4,726.5C341.4,727.9 345.2,731.1 346.4,731.8C347.6,732.5 351.1,733.3 352.4,733.3C353.8,733.3 358.6,731.1 360.0,731.8C361.3,732.6 364.6,738.9 366.0,740.9C367.4,742.8 371.9,749.6 373.5,751.4C375.2,753.3 380.9,757.5 382.6,759.0C384.3,760.5 388.9,765.4 390.1,766.5C391.3,767.7 393.5,770.0 394.7,770.3C395.9,770.6 400.7,769.9 402.2,769.5C403.7,769.2 408.1,767.1 409.8,766.5C411.4,765.9 417.3,765.0 418.8,763.5C420.3,762.0 423.5,754.3 424.8,751.4C426.2,748.6 431.0,738.0 432.4,734.8C433.7,731.7 437.2,722.8 438.4,719.8C439.6,716.7 443.3,708.0 444.5,704.7C445.7,701.3 449.3,689.9 450.5,686.6C451.7,683.2 455.3,674.2 456.5,671.5C457.7,668.8 461.5,660.8 462.6,659.4C463.6,658.0 466.2,657.5 467.1,657.9C468.0,658.3 470.6,662.3 471.6,663.2C472.7,664.1 476.3,666.2 477.7,666.9C479.0,667.7 483.7,670.8 485.2,670.7C486.7,670.6 490.6,666.7 492.7,666.2C494.9,665.7 504.7,665.8 506.3,665.4C508.0,665.1 508.3,662.6 509.3,662.4C510.4,662.2 515.7,662.0 516.9,663.2C518.1,664.4 520.4,672.0 521.4,674.5C522.5,677.0 526.1,685.4 527.4,688.1C528.8,690.8 533.5,698.6 535.0,701.7C536.5,704.7 541.0,714.6 542.5,718.2C544.0,721.9 548.6,734.1 550.1,737.9C551.6,741.6 556.3,752.8 557.6,756.0C559.0,759.1 562.4,767.6 563.7,769.5C564.9,771.5 568.5,774.6 569.7,775.6C570.9,776.6 574.4,779.3 575.7,779.4C577.1,779.4 582.1,777.9 583.3,776.3C584.5,774.8 586.7,767.1 587.8,763.5C588.9,760.0 592.8,744.4 593.8,740.9C594.9,737.4 597.5,730.8 598.4,728.8C599.2,726.8 600.9,722.1 602.1,721.3C603.3,720.4 609.0,721.6 610.4,720.5C611.9,719.5 614.7,711.8 616.5,710.7C618.3,709.6 626.7,709.8 628.5,709.2C630.3,708.6 633.4,706.3 634.6,704.7C635.7,703.0 639.2,694.0 640.0,692.6C640.8,691.2 641.9,691.7 642.6,690.3C643.3,688.8 646.0,680.9 647.2,678.2C648.4,675.5 653.2,665.8 654.7,663.1C656.2,660.4 661.0,653.8 662.2,651.1C663.5,648.3 665.9,639.6 666.8,636.0C667.7,632.3 670.4,618.3 671.3,614.8C672.2,611.4 674.8,603.8 675.8,601.3C676.9,598.7 680.7,591.9 681.9,589.2C683.1,586.5 686.7,576.4 687.9,574.1C689.1,571.8 692.9,568.4 693.9,566.6C695.0,564.8 697.4,557.4 698.5,556.0C699.5,554.6 703.1,553.3 704.5,553.0C705.9,552.7 710.7,553.3 712.0,553.0C713.4,552.7 716.9,551.2 718.1,550.0C719.3,548.8 722.7,541.7 724.1,540.9C725.5,540.1 730.3,542.0 731.7,541.7C733.0,541.3 736.5,539.0 737.7,537.1C738.9,535.3 742.4,525.4 743.7,522.8C745.1,520.2 749.9,513.0 751.3,510.7C752.6,508.5 756.1,501.5 757.3,500.2C758.5,498.9 762.1,497.6 763.3,497.9C764.5,498.2 767.9,502.8 769.4,503.2C770.9,503.6 776.6,501.2 778.4,501.7C780.2,502.1 786.1,506.2 787.5,507.7C788.8,509.2 790.9,515.7 792.0,516.8C793.1,517.8 796.7,516.9 798.0,518.3C799.4,519.6 804.1,528.1 805.6,530.4C807.1,532.6 811.6,539.3 813.1,540.9C814.6,542.6 819.2,546.8 820.7,546.9C822.2,547.1 826.7,543.1 828.2,542.4C829.7,541.7 834.4,540.1 835.8,540.2C837.1,540.2 840.6,543.4 841.8,543.2C843.0,543.0 846.5,538.4 847.8,537.9C849.2,537.4 853.9,537.3 855.4,537.9C856.9,538.5 861.4,542.6 862.9,543.9C864.4,545.3 869.1,551.2 870.5,551.5C871.8,551.8 875.1,547.6 876.5,546.9C877.9,546.3 882.5,545.7 884.0,545.4C885.5,545.1 889.9,543.7 891.6,543.9C893.2,544.2 898.8,547.3 900.6,547.7C902.4,548.2 908.2,548.5 909.7,548.5C911.2,548.5 914.5,548.2 915.7,547.7C916.9,547.3 920.3,543.7 921.8,543.9C923.3,544.2 929.0,549.1 930.8,550.0C932.6,550.8 938.1,550.9 939.9,552.2C941.7,553.6 947.0,562.2 948.9,563.5C950.9,564.9 958.4,565.5 959.5,565.8C960.6,566.1 959.5,566.5 960.0,566.8C960.5,567.1 963.3,569.1 964.5,569.0C965.7,569.0 970.7,566.3 972.1,566.0C973.4,565.7 976.6,565.5 978.1,566.0C979.6,566.5 985.8,569.9 987.2,571.3C988.5,572.7 990.3,578.8 991.7,579.6C993.0,580.4 999.4,580.3 1000.7,579.6C1002.1,578.9 1003.9,573.8 1005.3,572.8C1006.6,571.8 1012.8,570.5 1014.3,569.8C1015.8,569.1 1019.0,566.4 1020.4,566.0C1021.7,565.6 1026.5,565.8 1027.9,566.0C1029.3,566.2 1032.9,567.8 1033.9,568.3C1035.0,568.8 1037.3,571.2 1038.5,571.3C1039.7,571.4 1044.6,569.7 1046.0,569.0C1047.4,568.4 1050.5,565.1 1052.0,564.5C1053.5,563.9 1059.7,563.4 1061.1,563.0C1062.4,562.6 1064.4,561.0 1065.6,560.7C1066.8,560.4 1071.5,559.2 1073.2,560.0C1074.8,560.7 1080.9,566.7 1082.2,568.3C1083.6,569.9 1085.8,574.0 1086.7,575.8C1087.6,577.6 1089.5,585.3 1091.3,586.4C1093.1,587.4 1102.9,586.1 1104.8,586.4C1106.8,586.7 1109.5,588.5 1110.9,589.4C1112.2,590.3 1117.1,593.9 1118.4,595.4C1119.8,596.9 1123.3,603.3 1124.5,604.5C1125.7,605.7 1129.1,607.1 1130.5,607.5C1131.9,608.0 1136.5,608.6 1138.0,609.0C1139.5,609.4 1144.1,611.4 1145.6,611.3C1147.1,611.2 1151.5,608.6 1153.1,608.3C1154.8,608.0 1160.7,607.7 1162.2,608.3C1163.7,608.9 1167.2,613.8 1168.2,614.3C1169.3,614.8 1171.8,613.8 1172.7,613.5C1173.6,613.2 1176.2,611.4 1177.3,611.3C1178.3,611.2 1182.1,612.3 1183.3,612.8C1184.5,613.2 1188.0,615.7 1189.3,615.8C1190.7,615.9 1195.5,614.1 1196.9,613.5C1198.2,612.9 1201.7,611.1 1202.9,609.8C1204.1,608.5 1207.6,601.9 1209.0,600.7C1210.3,599.5 1215.1,598.1 1216.5,597.7C1217.9,597.3 1221.3,597.4 1222.5,596.9C1223.7,596.5 1227.4,593.7 1228.6,593.2C1229.8,592.6 1233.4,592.0 1234.6,591.7C1235.8,591.3 1239.3,590.0 1240.6,589.4C1242.0,588.8 1246.7,585.5 1248.2,585.6C1249.7,585.8 1253.9,589.9 1255.7,590.9C1257.5,592.0 1264.0,595.4 1266.3,596.2C1268.5,597.0 1276.2,598.9 1278.4,599.2C1280.5,599.5 1286.1,598.7 1287.4,599.2C1288.8,599.7 1291.0,603.4 1291.9,604.5C1292.8,605.5 1295.7,609.5 1296.5,609.8C1297.3,610.1 1298.7,608.3 1300.0,607.7C1301.3,607.1 1307.1,604.2 1309.1,603.9C1311.0,603.6 1317.7,604.3 1319.6,604.7C1321.6,605.1 1326.9,607.6 1328.7,607.7C1330.5,607.9 1335.8,606.5 1337.7,606.2C1339.7,605.9 1346.3,604.7 1348.3,604.7C1350.2,604.7 1355.4,606.1 1357.3,606.2C1359.3,606.4 1365.8,606.8 1367.9,606.2C1370.0,605.6 1376.3,600.7 1378.5,600.2C1380.6,599.6 1386.9,601.5 1389.0,600.9C1391.1,600.4 1397.2,595.8 1399.6,594.9C1402.0,594.0 1410.9,591.5 1413.2,591.9C1415.4,592.3 1420.7,597.3 1422.2,598.7C1423.7,600.0 1426.6,604.6 1428.2,605.5C1429.9,606.4 1436.7,607.0 1438.8,607.7C1440.9,608.4 1447.3,612.1 1449.4,612.2C1451.5,612.4 1458.3,609.2 1459.9,609.2C1461.6,609.2 1464.5,612.0 1466.0,612.2C1467.5,612.5 1473.2,611.1 1475.0,611.5C1476.8,611.9 1482.6,615.3 1484.1,616.0C1485.6,616.8 1488.9,618.1 1490.1,619.0C1491.3,619.9 1494.8,624.8 1496.1,625.1C1497.5,625.3 1502.3,621.3 1503.7,621.3C1505.0,621.3 1508.5,624.0 1509.7,625.1C1510.9,626.1 1514.6,631.1 1515.8,631.9C1517.0,632.6 1520.4,632.3 1521.8,632.6C1523.2,632.9 1528.0,635.1 1529.3,634.9C1530.7,634.7 1533.6,630.9 1535.4,630.4C1537.2,629.8 1545.0,629.7 1547.4,629.6C1549.9,629.5 1557.7,629.3 1559.5,629.6C1561.3,629.9 1564.3,631.8 1565.5,632.6C1566.8,633.4 1570.1,637.5 1571.6,637.9C1573.1,638.3 1579.1,636.1 1580.6,636.4C1582.1,636.7 1585.2,640.5 1586.7,640.9C1588.2,641.3 1594.2,640.0 1595.7,640.2C1597.2,640.3 1600.4,642.3 1601.8,642.4C1603.1,642.5 1607.8,641.1 1609.3,640.9C1610.8,640.8 1615.9,640.8 1616.8,640.9C1617.8,641.0 1618.1,642.7 1619.2,642.2C1620.3,641.6 1626.6,636.4 1628.2,635.4C1629.9,634.4 1634.3,633.1 1635.8,632.4C1637.3,631.6 1642.0,629.1 1643.3,627.9C1644.7,626.7 1648.2,621.5 1649.4,620.3C1650.6,619.2 1654.2,618.2 1655.4,616.5C1656.6,614.9 1660.2,605.5 1661.4,603.7C1662.6,602.0 1666.3,600.1 1667.5,599.2C1668.7,598.3 1672.3,596.3 1673.5,594.7C1674.7,593.0 1678.3,584.6 1679.5,582.6C1680.8,580.6 1684.4,575.4 1685.6,574.3C1686.8,573.2 1690.3,572.0 1691.6,571.3C1693.0,570.5 1698.0,568.3 1699.2,566.8C1700.4,565.2 1702.5,557.3 1703.7,555.4C1704.9,553.6 1709.9,549.9 1711.2,547.9C1712.6,545.9 1715.9,537.9 1717.3,535.8C1718.6,533.8 1723.2,528.9 1724.8,527.5C1726.5,526.2 1732.2,522.9 1733.9,522.2C1735.5,521.6 1739.9,521.4 1741.4,520.7C1742.9,520.1 1747.4,516.6 1749.0,515.5C1750.5,514.3 1755.1,510.0 1756.5,509.4C1757.9,508.8 1761.3,509.1 1762.5,509.4C1763.7,509.7 1766.9,512.3 1768.6,512.4C1770.2,512.6 1777.3,511.1 1779.1,510.9C1780.9,510.8 1785.2,510.3 1786.7,510.9C1788.2,511.6 1792.7,516.7 1794.2,517.7C1795.7,518.7 1800.3,520.6 1801.8,520.7C1803.3,520.9 1807.5,519.2 1809.3,519.2C1811.1,519.3 1818.1,521.6 1819.9,521.5C1821.7,521.4 1825.8,518.9 1827.4,518.5C1829.1,518.1 1835.0,518.2 1836.5,517.7C1838.0,517.2 1841.6,514.2 1842.5,513.2C1843.4,512.1 1844.5,508.1 1845.5,507.2C1846.6,506.3 1851.6,504.7 1853.1,504.1C1854.5,503.6 1859.0,502.1 1860.0,501.9C1861.0,501.7 1861.6,501.5 1862.6,502.0C1863.6,502.6 1868.5,506.8 1870.2,507.3C1871.8,507.8 1877.7,507.2 1879.2,507.3C1880.7,507.4 1883.9,508.2 1885.3,508.1C1886.6,507.9 1891.3,505.3 1892.8,505.8C1894.3,506.2 1899.0,511.9 1900.4,512.6C1901.7,513.3 1905.2,512.7 1906.4,512.6C1907.6,512.5 1911.1,512.7 1912.4,511.8C1913.8,511.0 1918.6,505.4 1920.0,504.3C1921.3,503.2 1924.6,500.5 1926.0,500.5C1927.4,500.5 1932.2,503.0 1933.5,504.3C1934.9,505.6 1938.4,512.0 1939.6,513.3C1940.8,514.7 1944.4,516.7 1945.6,517.9C1946.8,519.1 1950.6,523.7 1951.7,525.4C1952.7,527.1 1955.0,532.8 1956.2,534.5C1957.4,536.1 1962.4,540.2 1963.7,542.0C1965.1,543.8 1968.5,550.9 1969.8,552.6C1971.0,554.2 1974.3,557.8 1975.8,558.6C1977.3,559.4 1983.3,559.7 1984.8,560.1C1986.4,560.6 1989.8,562.6 1990.9,563.1C1991.9,563.7 1994.4,565.5 1995.4,565.4C1996.5,565.3 2000.1,562.4 2001.4,562.4C2002.8,562.4 2007.5,565.5 2009.0,565.4C2010.5,565.2 2015.2,561.5 2016.5,560.9C2017.9,560.2 2021.4,559.2 2022.6,558.6C2023.8,558.0 2027.4,555.0 2028.6,554.8C2029.8,554.7 2033.3,555.7 2034.6,557.1C2036.0,558.5 2040.8,567.4 2042.2,569.0C2043.5,570.6 2047.2,571.7 2048.2,572.8C2049.3,573.9 2051.2,578.9 2052.7,580.3C2054.2,581.8 2061.5,586.1 2063.3,587.1C2065.1,588.2 2069.0,589.8 2070.8,590.9C2072.7,592.0 2079.4,596.8 2081.4,597.7C2083.4,598.6 2089.0,599.2 2090.5,599.9C2092.0,600.7 2095.1,604.1 2096.5,605.2C2097.9,606.4 2102.5,609.9 2104.0,611.3C2105.5,612.6 2110.2,616.8 2111.6,618.8C2112.9,620.8 2116.1,628.8 2117.6,630.9C2119.1,633.0 2125.0,638.6 2126.7,639.9C2128.3,641.3 2132.9,643.0 2134.2,644.5C2135.6,646.0 2138.9,653.1 2140.3,655.0C2141.6,657.0 2146.3,662.4 2147.8,664.1C2149.3,665.7 2154.1,670.8 2155.3,671.6C2156.6,672.4 2159.0,672.4 2160.0,672.3C2161.0,672.3 2164.1,671.9 2165.2,671.3C2166.3,670.7 2170.1,666.5 2171.4,666.1C2172.8,665.7 2177.0,667.5 2178.7,667.7C2180.4,667.8 2186.5,667.3 2188.1,667.7C2189.6,668.0 2192.9,671.0 2194.3,671.3C2195.6,671.6 2200.2,670.6 2201.6,670.8C2202.9,670.9 2206.5,672.2 2207.8,672.9C2209.0,673.5 2212.9,676.1 2214.0,677.0C2215.2,677.9 2218.1,681.6 2219.2,682.2C2220.4,682.8 2223.9,683.2 2225.5,683.2C2227.0,683.3 2233.4,682.3 2234.8,682.7C2236.3,683.1 2238.9,686.9 2240.0,687.4C2241.1,687.9 2245.1,687.4 2246.2,687.9C2247.4,688.5 2250.0,692.1 2251.4,693.1C2252.9,694.1 2259.5,696.7 2260.8,697.8C2262.0,698.9 2263.0,703.1 2263.9,704.0C2264.8,705.0 2268.8,706.7 2270.1,707.1C2271.5,707.6 2275.9,708.0 2277.4,708.2C2278.9,708.3 2283.4,708.3 2284.7,708.7C2285.9,709.1 2288.7,711.9 2289.9,712.3C2291.0,712.8 2294.9,712.7 2296.1,712.9C2297.4,713.0 2301.0,714.2 2302.3,713.9C2303.7,713.6 2308.1,710.2 2309.6,709.7C2311.2,709.3 2316.3,709.8 2317.9,709.7C2319.6,709.7 2324.9,709.1 2326.2,709.2C2327.6,709.4 2330.4,711.0 2331.4,711.3C2332.5,711.6 2335.9,712.4 2336.6,712.5C2337.3,712.7 2338.1,712.9 2338.3,712.9" fill="none" stroke="#008000" stroke-width="8.4" stroke-linejoin="round" stroke-linecap="butt"/>
<path d="M420.4,1348.5v-19.3M420.4,30.0v19.3M594.7,1348.5v-36M594.7,30.0v36M769.1,1348.5v-19.3M769.1,30.0v19.3M943.4,1348.5v-36M943.4,30.0v36M1117.8,1348.5v-19.3M1117.8,30.0v19.3M1292.2,1348.5v-36M1292.2,30.0v36M1466.5,1348.5v-19.3M1466.5,30.0v19.3M1640.9,1348.5v-36M1640.9,30.0v36M1815.2,1348.5v-19.3M1815.2,30.0v19.3M1989.6,1348.5v-36M1989.6,30.0v36M2163.9,1348.5v-19.3M2163.9,30.0v19.3M246.0,1217.2h36M2338.3,1217.2h-36M246.0,1052.3h19.3M2338.3,1052.3h-19.3M246.0,887.5h36M2338.3,887.5h-36M246.0,722.7h19.3M2338.3,722.7h-19.3M246.0,557.9h36M2338.3,557.9h-36M246.0,393.1h19.3M2338.3,393.1h-19.3M246.0,228.3h36M2338.3,228.3h-36M246.0,63.5h19.3M2338.3,63.5h-19.3" fill="none" stroke="#000" stroke-width="7"/>
<rect x="246.0" y="30.0" width="2092.3" height="1318.5" fill="none" stroke="#000" stroke-width="7"/>
<text transform="translate(246.7,1430.5) scale(1,1.03)" font-size="92" text-anchor="middle">0</text>
<text transform="translate(595.4,1430.5) scale(1,1.03)" font-size="92" text-anchor="middle">25</text>
<text transform="translate(944.1,1430.5) scale(1,1.03)" font-size="92" text-anchor="middle">50</text>
<text transform="translate(1292.9,1430.5) scale(1,1.03)" font-size="92" text-anchor="middle">75</text>
<text transform="translate(1641.6,1430.5) scale(1,1.03)" font-size="92" text-anchor="middle">100</text>
<text transform="translate(1990.3,1430.5) scale(1,1.03)" font-size="92" text-anchor="middle">125</text>
<text transform="translate(2339.0,1430.5) scale(1,1.03)" font-size="92" text-anchor="middle">150</text>
<text transform="translate(234.2,1249.9) scale(1,1.03)" font-size="92" text-anchor="end">10</text>
<text transform="translate(234.2,920.2) scale(1,1.03)" font-size="92" text-anchor="end">15</text>
<text transform="translate(234.2,590.6) scale(1,1.03)" font-size="92" text-anchor="end">20</text>
<text transform="translate(234.2,261.0) scale(1,1.03)" font-size="92" text-anchor="end">25</text>
<text transform="translate(1296.0,1531.0) scale(1,1.02)" font-size="112" text-anchor="middle">time (ns)</text>
<text transform="translate(116.5,690.8) rotate(-90) scale(1,1.03)" font-size="112" text-anchor="middle"># of waters</text>
<rect x="326.5" y="111" width="609" height="299.3" fill="#fff" stroke="#000" stroke-width="6.5"/>
<path d="M342.3,153.4H414" stroke="#000000" stroke-width="7" fill="none"/>
<text transform="translate(442.2,181.0) scale(1,1.03)" font-size="72.5" text-anchor="start">NtMGAM-ACA</text>
<path d="M342.3,225.8H414" stroke="#ff0000" stroke-width="7" fill="none"/>
<text transform="translate(442.2,252.1) scale(1,1.03)" font-size="72.5" text-anchor="start">NtMGAM-MAY</text>
<path d="M342.3,295.5H414" stroke="#0000ff" stroke-width="7" fill="none"/>
<text transform="translate(442.2,323.5) scale(1,1.03)" font-size="72.5" text-anchor="start">NtMGAM-LUT</text>
<path d="M342.3,367.5H414" stroke="#008000" stroke-width="7" fill="none"/>
<text transform="translate(442.2,394.6) scale(1,1.03)" font-size="72.5" text-anchor="start">NtMGAM</text>
</svg>
</body></html>
